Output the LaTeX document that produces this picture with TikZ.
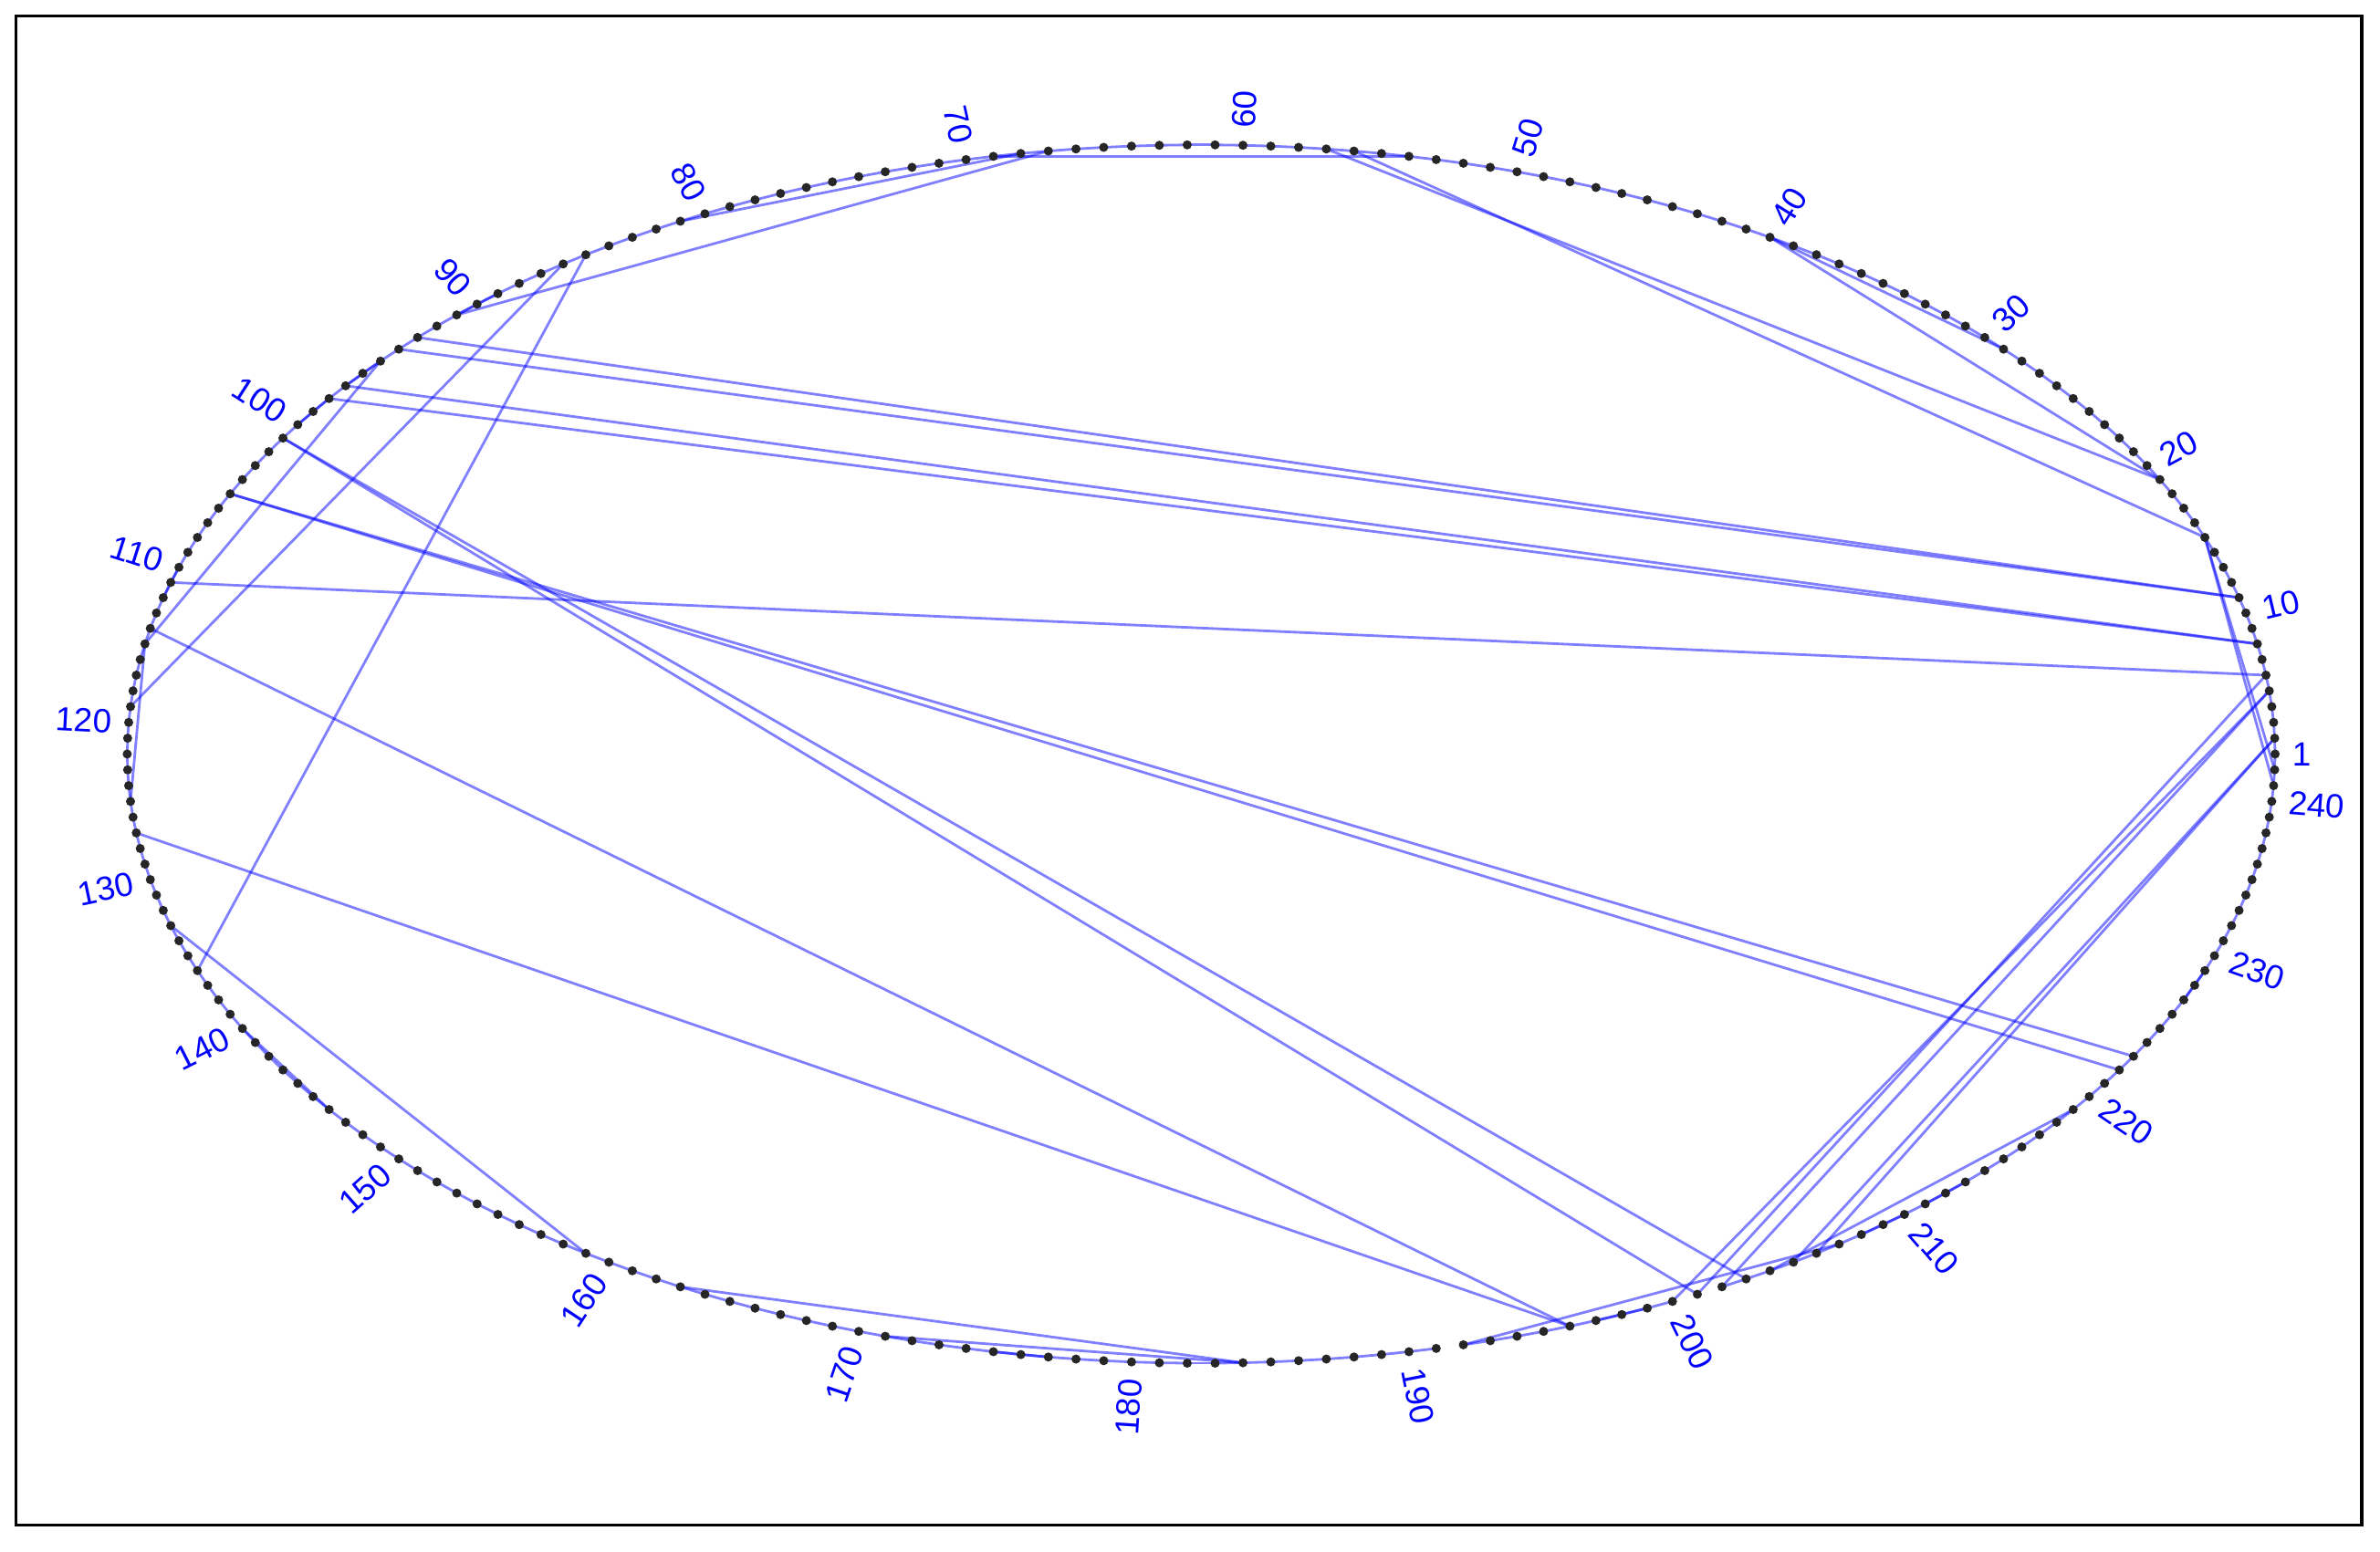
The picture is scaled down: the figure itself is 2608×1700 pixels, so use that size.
\documentclass[tikz,border=0pt]{standalone}
\usepackage{fontspec}
\setmainfont{Liberation Sans}
\begin{document}
\begin{tikzpicture}[x=0.25pt,y=-0.25pt,
  edge/.style={draw=blue, draw opacity=0.5, line width=0.7pt},
  dot/.style={circle, fill=black!85, inner sep=0pt, minimum size=2.5pt},
  lab/.style={text=blue, font=\fontsize{9.2}{10}\selectfont, inner sep=0pt}]
\useasboundingbox (0,0) rectangle (2608,1700);
\draw[line width=0.8pt] (17.5,17.5) rectangle (2588,1671.5);
\foreach \k in {1,...,242}{
  \pgfmathsetmacro\t{(\k-1)*1.4876033}
  \coordinate (p\k) at ({1316.2+1176.8*cos(\t)},{826.4-667.7*sin(\t)});
}
% ring edges
\foreach \i in {1,...,190}{\pgfmathtruncatemacro\j{\i+1}\draw[edge] (p\i) -- (p\j);}
\foreach \i in {192,...,199}{\pgfmathtruncatemacro\j{\i+1}\draw[edge] (p\i) -- (p\j);}
\foreach \i in {202,...,241}{\pgfmathtruncatemacro\j{\i+1}\draw[edge] (p\i) -- (p\j);}
\draw[edge] (p242) -- (p1);
% chords
\foreach \a/\b in {67/91,68/81,69/54,85/136,86/119,95/115,101/201,101/203,105/222,105/223,
  111/6,114/196,127/196,133/159,57/19,56/15,40/19,40/29,15/241,15/242,200/5,201/6,202/5,205/2,206/2,
  192/207,204/219,163/184,171/184,93/11,94/11,97/8,98/8,115/125,
  89/91,95/97,98/100,110/112,140/146,175/177,197/199,208/210,211/213,227/229}
  {\draw[edge] (p\a) -- (p\b);}
% vertices
\foreach \k in {1,...,242}{\node[dot] (n\k) at (p\k) {};}
% labels
\foreach \k in {1,10,20,...,240}{
  \pgfmathsetmacro\t{(\k-1)*1.4876033}
  \pgfmathsetmacro\c{cos(\t)}
  \ifdim \c pt<0pt
    \node[lab,anchor=east,rotate=\t-180] (l\k) at ({1316.2+1194.8*cos(\t)},{826.4-685.7*sin(\t)}) {\k};
  \else
    \node[lab,anchor=west,rotate=\t] (l\k) at ({1316.2+1194.8*cos(\t)},{826.4-685.7*sin(\t)}) {\k};
  \fi
}
\end{tikzpicture}
\end{document}
